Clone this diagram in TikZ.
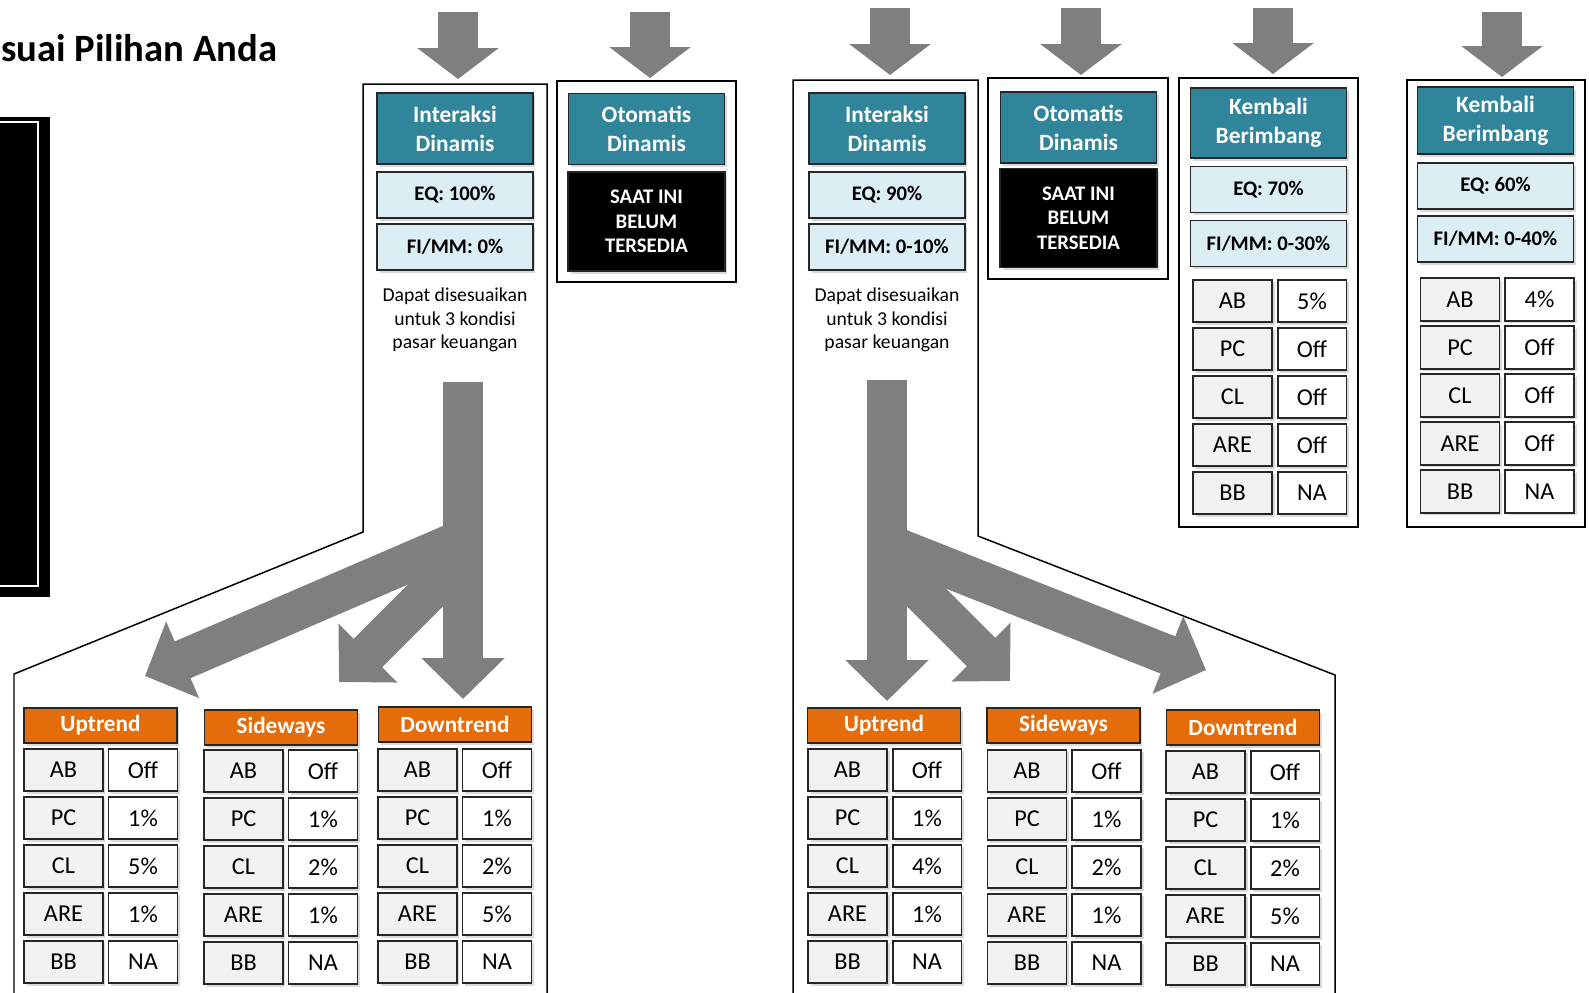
\documentclass[tikz,border=0pt]{standalone}
\usepackage{fontspec}
\setmainfont{Carlito}
\usetikzlibrary{positioning, arrows.meta, shadows}
\definecolor{tealhead}{RGB}{49,133,155}
\definecolor{paleblue}{RGB}{219,238,244}
\definecolor{trendorange}{RGB}{228,108,10}
\definecolor{cellgrey}{RGB}{242,242,242}
\definecolor{arrowgrey}{RGB}{127,127,127}

\begin{document}
\begin{tikzpicture}[x=0.02cm, y=-0.02cm, node distance=0.072cm,
  box/.style={draw=black!85, line width=1.1pt, align=center, inner sep=0pt,
    drop shadow={opacity=0.3, shadow xshift=0.05cm, shadow yshift=-0.05cm}},
  head/.style={box, fill=tealhead, text=white, font=\fontsize{13.3}{16.4}\selectfont\bfseries,
    minimum width=3.12cm, minimum height=1.42cm},
  share/.style={box, fill=paleblue, font=\fontsize{11.8}{14}\selectfont\bfseries,
    minimum width=3.12cm, minimum height=0.92cm},
  notyet/.style={box, fill=black, text=white, font=\fontsize{11.8}{13.9}\selectfont\bfseries,
    minimum width=3.14cm, minimum height=1.98cm},
  trend/.style={box, fill=trendorange, text=white, font=\fontsize{13.2}{16}\selectfont\bfseries,
    minimum width=3.06cm, minimum height=0.7cm},
  keycell/.style={box, fill=cellgrey, font=\fontsize{13.8}{16}\selectfont,
    minimum width=1.58cm, minimum height=0.85cm},
  valcell/.style={box, fill=white, font=\fontsize{13.8}{16}\selectfont,
    minimum width=1.38cm, minimum height=0.85cm},
  remark/.style={align=center, inner sep=0pt, font=\fontsize{11.2}{13.2}\selectfont},
  panel/.style={draw, line width=0.85pt},
  toparrow/.style={draw=arrowgrey, line width=0.8cm, -{Triangle[length=0.62cm, width=1.6cm]}},
  splitarrow/.style={draw=arrowgrey, line width=0.8cm, -{Triangle[length=0.82cm, width=1.62cm]}}]

\useasboundingbox (0,0) rectangle (1589,992);

\fill (-5,117) rectangle (50,597);
\draw[white, line width=1.2pt] (-5,122) -- (38,122) -- (38,586) -- (-5,586);
\node (title) [anchor=base west, inner sep=0pt, font=\fontsize{22}{26}\selectfont\bfseries] at (1,61) {suai Pilihan Anda};

\draw[panel] (14,1000) -- (14,674) -- (363,532) -- (363,84) -- (547,84) -- (547,1000);
\draw[panel] (557,81) rectangle (736,282);
\draw[panel] (793,1000) -- (793,80) -- (978,80) -- (978,536) -- (1335,675) -- (1335,1000);
\draw[panel] (988,78) rectangle (1168,279);
\draw[panel] (1179,78) rectangle (1358,527);
\draw[panel] (1407,80) rectangle (1585,527);

\coordinate (A-top) at (458,12);   \coordinate (A-in) at (458,79);
\coordinate (B-top) at (650,12);   \coordinate (B-in) at (650,78);
\coordinate (C-top) at (890,8);    \coordinate (C-in) at (890,75);
\coordinate (D-top) at (1081,8);   \coordinate (D-in) at (1081,75);
\coordinate (E-top) at (1273,8);   \coordinate (E-in) at (1273,74);
\coordinate (F-top) at (1502,12);  \coordinate (F-in) at (1502,77);
\draw[toparrow] (A-top) -- (A-in);
\draw[toparrow] (B-top) -- (B-in);
\draw[toparrow] (C-top) -- (C-in);
\draw[toparrow] (D-top) -- (D-in);
\draw[toparrow] (E-top) -- (E-in);
\draw[toparrow] (F-top) -- (F-in);

\node (headA) [head] at (455,128.5) {Interaksi\\Dinamis};
\node (eqA)   [share] at (455,195) {EQ: 100\%};
\node (fiA)   [share] at (455,247) {FI/MM: 0\%};
\node (noteA) [remark] at (455,320) {Dapat disesuaikan\\untuk 3 kondisi\\pasar keuangan};

\node (headB) [head] at (646.5,129) {Otomatis\\Dinamis};
\node (naB)   [notyet] at (646.5,221.5) {SAAT INI\\BELUM\\TERSEDIA};

\node (headC) [head] at (887,128.5) {Interaksi\\Dinamis};
\node (eqC)   [share] at (887,195) {EQ: 90\%};
\node (fiC)   [share] at (887,247) {FI/MM: 0-10\%};
\node (noteC) [remark] at (887,320) {Dapat disesuaikan\\untuk 3 kondisi\\pasar keuangan};

\node (headD) [head] at (1078.5,127.5) {Otomatis\\Dinamis};
\node (naD)   [notyet] at (1078.5,218) {SAAT INI\\BELUM\\TERSEDIA};

\node (headE) [head, minimum height=1.4cm] at (1268.5,123) {Kembali\\Berimbang};
\node (eqE)   [share] at (1268.5,189.5) {EQ: 70\%};
\node (fiE)   [share] at (1268.5,243.5) {FI/MM: 0-30\%};

\node (headF) [head, minimum height=1.34cm] at (1495.5,120.5) {Kembali\\Berimbang};
\node (eqF)   [share] at (1495.5,186) {EQ: 60\%};
\node (fiF)   [share] at (1495.5,239) {FI/MM: 0-40\%};

\coordinate (A-root) at (463,382);   \coordinate (A-dn) at (463,699);
\coordinate (A-sdfrom) at (463,558); \coordinate (A-sd) at (339,682);
\coordinate (A-upfrom) at (470,536); \coordinate (A-up) at (145,676);
\draw[splitarrow] (A-root) -- (A-dn);
\draw[splitarrow] (A-sdfrom) -- (A-sd);
\draw[splitarrow] (A-upfrom) -- (A-up);

\coordinate (C-root) at (887,380);   \coordinate (C-up) at (887,701);
\coordinate (C-sdfrom) at (887,558); \coordinate (C-sd) at (1010,681);
\coordinate (C-dnfrom) at (880,541); \coordinate (C-dn) at (1206,670);
\draw[splitarrow] (C-root) -- (C-up);
\draw[splitarrow] (C-sdfrom) -- (C-sd);
\draw[splitarrow] (C-dnfrom) -- (C-dn);

\node (upA) [trend] at (100.5,725.5) {Uptrend};
\node (sdA) [trend] at (281,727.5) {Sideways};
\node (dnA) [trend] at (455,724.5) {Downtrend};
\node (upC) [trend] at (884,725.5) {Uptrend};
\node (sdC) [trend] at (1063.5,725.5) {Sideways};
\node (dnC) [trend] at (1243,727.5) {Downtrend};

\node (upA-ab)   [keycell] at (63.5,770) {AB};
\node (upA-abv)  [valcell, right=of upA-ab] {Off};
\node (upA-pc)   [keycell, below=of upA-ab] {PC};
\node (upA-pcv)  [valcell, right=of upA-pc] {1\%};
\node (upA-cl)   [keycell, below=of upA-pc] {CL};
\node (upA-clv)  [valcell, right=of upA-cl] {5\%};
\node (upA-are)  [keycell, below=of upA-cl] {ARE};
\node (upA-arev) [valcell, right=of upA-are] {1\%};
\node (upA-bb)   [keycell, below=of upA-are] {BB};
\node (upA-bbv)  [valcell, right=of upA-bb] {NA};

\node (sdA-ab)   [keycell] at (243.5,771) {AB};
\node (sdA-abv)  [valcell, right=of sdA-ab] {Off};
\node (sdA-pc)   [keycell, below=of sdA-ab] {PC};
\node (sdA-pcv)  [valcell, right=of sdA-pc] {1\%};
\node (sdA-cl)   [keycell, below=of sdA-pc] {CL};
\node (sdA-clv)  [valcell, right=of sdA-cl] {2\%};
\node (sdA-are)  [keycell, below=of sdA-cl] {ARE};
\node (sdA-arev) [valcell, right=of sdA-are] {1\%};
\node (sdA-bb)   [keycell, below=of sdA-are] {BB};
\node (sdA-bbv)  [valcell, right=of sdA-bb] {NA};

\node (dnA-ab)   [keycell] at (417.5,770) {AB};
\node (dnA-abv)  [valcell, right=of dnA-ab] {Off};
\node (dnA-pc)   [keycell, below=of dnA-ab] {PC};
\node (dnA-pcv)  [valcell, right=of dnA-pc] {1\%};
\node (dnA-cl)   [keycell, below=of dnA-pc] {CL};
\node (dnA-clv)  [valcell, right=of dnA-cl] {2\%};
\node (dnA-are)  [keycell, below=of dnA-cl] {ARE};
\node (dnA-arev) [valcell, right=of dnA-are] {5\%};
\node (dnA-bb)   [keycell, below=of dnA-are] {BB};
\node (dnA-bbv)  [valcell, right=of dnA-bb] {NA};

\node (upC-ab)   [keycell] at (847.5,770) {AB};
\node (upC-abv)  [valcell, right=of upC-ab] {Off};
\node (upC-pc)   [keycell, below=of upC-ab] {PC};
\node (upC-pcv)  [valcell, right=of upC-pc] {1\%};
\node (upC-cl)   [keycell, below=of upC-pc] {CL};
\node (upC-clv)  [valcell, right=of upC-cl] {4\%};
\node (upC-are)  [keycell, below=of upC-cl] {ARE};
\node (upC-arev) [valcell, right=of upC-are] {1\%};
\node (upC-bb)   [keycell, below=of upC-are] {BB};
\node (upC-bbv)  [valcell, right=of upC-bb] {NA};

\node (sdC-ab)   [keycell] at (1027,771) {AB};
\node (sdC-abv)  [valcell, right=of sdC-ab] {Off};
\node (sdC-pc)   [keycell, below=of sdC-ab] {PC};
\node (sdC-pcv)  [valcell, right=of sdC-pc] {1\%};
\node (sdC-cl)   [keycell, below=of sdC-pc] {CL};
\node (sdC-clv)  [valcell, right=of sdC-cl] {2\%};
\node (sdC-are)  [keycell, below=of sdC-cl] {ARE};
\node (sdC-arev) [valcell, right=of sdC-are] {1\%};
\node (sdC-bb)   [keycell, below=of sdC-are] {BB};
\node (sdC-bbv)  [valcell, right=of sdC-bb] {NA};

\node (dnC-ab)   [keycell] at (1205.5,772) {AB};
\node (dnC-abv)  [valcell, right=of dnC-ab] {Off};
\node (dnC-pc)   [keycell, below=of dnC-ab] {PC};
\node (dnC-pcv)  [valcell, right=of dnC-pc] {1\%};
\node (dnC-cl)   [keycell, below=of dnC-pc] {CL};
\node (dnC-clv)  [valcell, right=of dnC-cl] {2\%};
\node (dnC-are)  [keycell, below=of dnC-cl] {ARE};
\node (dnC-arev) [valcell, right=of dnC-are] {5\%};
\node (dnC-bb)   [keycell, below=of dnC-are] {BB};
\node (dnC-bbv)  [valcell, right=of dnC-bb] {NA};

\node (E-ab)   [keycell] at (1232.5,301) {AB};
\node (E-abv)  [valcell, right=of E-ab] {5\%};
\node (E-pc)   [keycell, below=of E-ab] {PC};
\node (E-pcv)  [valcell, right=of E-pc] {Off};
\node (E-cl)   [keycell, below=of E-pc] {CL};
\node (E-clv)  [valcell, right=of E-cl] {Off};
\node (E-are)  [keycell, below=of E-cl] {ARE};
\node (E-arev) [valcell, right=of E-are] {Off};
\node (E-bb)   [keycell, below=of E-are] {BB};
\node (E-bbv)  [valcell, right=of E-bb] {NA};

\node (F-ab)   [keycell] at (1460,299.5) {AB};
\node (F-abv)  [valcell, right=of F-ab] {4\%};
\node (F-pc)   [keycell, below=of F-ab] {PC};
\node (F-pcv)  [valcell, right=of F-pc] {Off};
\node (F-cl)   [keycell, below=of F-pc] {CL};
\node (F-clv)  [valcell, right=of F-cl] {Off};
\node (F-are)  [keycell, below=of F-cl] {ARE};
\node (F-arev) [valcell, right=of F-are] {Off};
\node (F-bb)   [keycell, below=of F-are] {BB};
\node (F-bbv)  [valcell, right=of F-bb] {NA};
\end{tikzpicture}
\end{document}
